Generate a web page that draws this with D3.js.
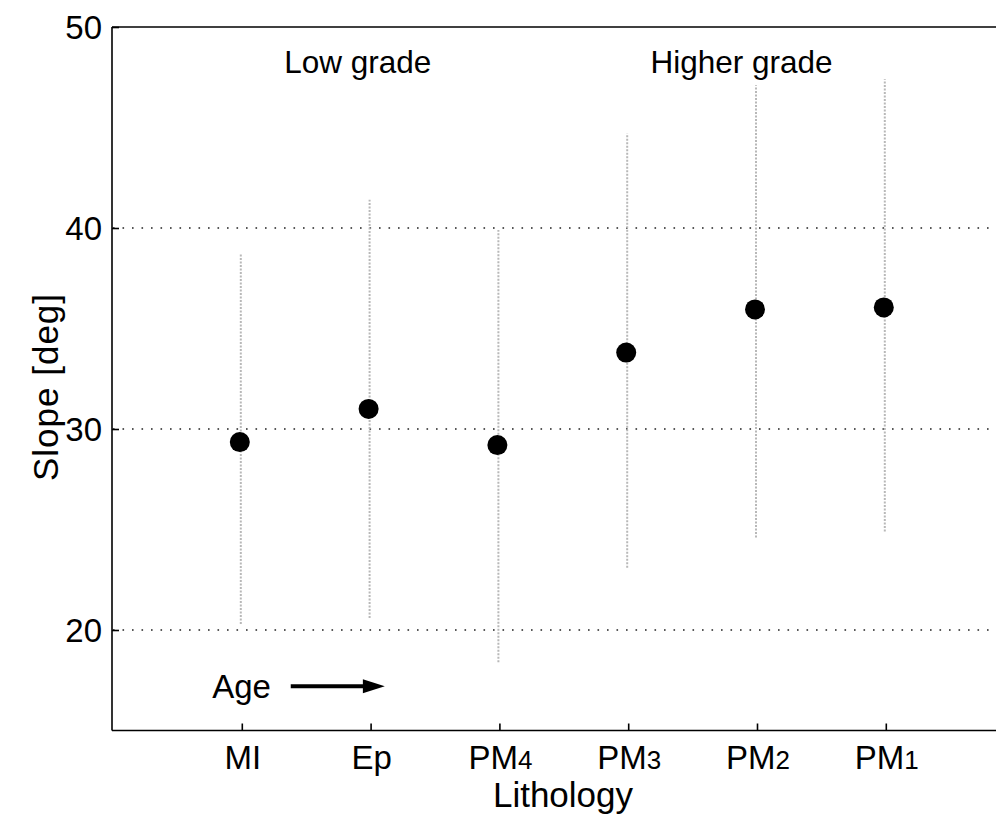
<!DOCTYPE html>
<html>
<head>
<meta charset="utf-8">
<script src="https://cdn.jsdelivr.net/npm/d3@7"></script>
<style>
  body { margin: 0; background: #fff; }
  svg text { font-family: "Liberation Sans", Arial, Helvetica, sans-serif; fill: #000; }
</style>
</head>
<body>
<svg id="plot" width="996" height="817"></svg>
<script>
// lithology categories (main text + subscript)
var lithNames = ["MI", "Ep", "PM", "PM", "PM", "PM"];
var lithSubs = ["", "", "4", "3", "2", "1"];
// mean slope per lithology
var slopeMean = [29.35, 31.0, 29.2, 33.8, 35.95, 36.05];
// spread of slopes (low / high end of the grey bars)
var slopeLow = [20.3, 20.6, 18.4, 23.1, 24.6, 24.9];
var slopeHigh = [38.75, 41.4, 39.9, 44.7, 47.1, 47.4];
var yTicks = [20, 30, 40, 50];
var gridValues = [20, 30, 40];

var svg = d3.select("#plot"),
    margin = {top: 27, left: 112, bottom: 730.5},
    g = svg.append("g");

var x = d3.scaleLinear()
    .domain([0, 7])
    .range([113, 113 + 7 * 128.8]);

var y = d3.scaleLinear()
    .domain([15, 50])
    .range([margin.bottom, margin.top]);

// dotted grid lines
g.selectAll(".grid")
    .data(gridValues)
    .enter().append("line")
    .attr("class", "grid")
    .attr("x1", x(0)).attr("x2", 996)
    .attr("y1", function(d) { return y(d); })
    .attr("y2", function(d) { return y(d); })
    .attr("stroke", "#222")
    .attr("stroke-width", 1.6)
    .attr("stroke-dasharray", "1.6,7.9");

// grey spread bars
g.selectAll(".spread")
    .data(slopeMean)
    .enter().append("line")
    .attr("class", "spread")
    .attr("x1", function(d, i) { return x(i + 1) - 1; })
    .attr("x2", function(d, i) { return x(i + 1) - 1; })
    .attr("y1", function(d, i) { return y(slopeLow[i]); })
    .attr("y2", function(d, i) { return y(slopeHigh[i]); })
    .attr("stroke", "#b8b8b8")
    .attr("stroke-width", 2)
    .attr("stroke-dasharray", "2,1.5");

// mean points
g.selectAll(".dot")
    .data(slopeMean)
    .enter().append("circle")
    .attr("class", "dot")
    .attr("cx", function(d, i) { return x(i + 1) - 2; })
    .attr("cy", function(d) { return y(d); })
    .attr("r", 10)
    .attr("fill", "#000");

// axes, ticks pointing inwards
var xAxis = d3.axisBottom(x)
    .tickValues([1, 2, 3, 4, 5, 6])
    .tickSize(-7)
    .tickFormat("");
var gx = g.append("g")
    .attr("transform", "translate(0," + y(15) + ")")
    .call(xAxis);
gx.select(".domain").attr("d", "M" + (x(0) - 1) + ",0H996");

var yAxis = d3.axisLeft(y)
    .tickValues(yTicks)
    .tickSize(-7)
    .tickFormat("");
var gy = g.append("g")
    .attr("transform", "translate(" + (x(0) - 1) + ",0)")
    .call(yAxis);
gy.select(".domain").attr("d", "M0," + y(15) + "V" + y(50));
g.selectAll(".domain, .tick line").attr("stroke", "#000").attr("stroke-width", 1.6);

// top border
g.append("line")
    .attr("x1", x(0) - 1).attr("x2", 996)
    .attr("y1", y(50)).attr("y2", y(50))
    .attr("stroke", "#000").attr("stroke-width", 1.6);

// y tick labels
g.selectAll(".ylab")
    .data(yTicks)
    .enter().append("text")
    .attr("class", "ylab")
    .attr("x", 102)
    .attr("y", function(d) { return y(d) + 12; })
    .attr("text-anchor", "end")
    .attr("font-size", 33)
    .text(function(d) { return d; });

// x tick labels with small digit
var xl = g.selectAll(".xlab")
    .data(lithNames)
    .enter().append("text")
    .attr("class", "xlab")
    .attr("x", function(d, i) { return x(i + 1) + 1; })
    .attr("y", 769)
    .attr("text-anchor", "middle")
    .attr("font-size", 33);
xl.append("tspan").text(function(d) { return d; });
xl.append("tspan")
    .attr("font-size", 26)
    .text(function(d, i) { return lithSubs[i]; });

// axis titles
g.append("text")
    .attr("x", 563)
    .attr("y", 807)
    .attr("text-anchor", "middle")
    .attr("font-size", 35)
    .text("Lithology");

g.append("text")
    .attr("transform", "translate(58,387) rotate(-90)")
    .attr("text-anchor", "middle")
    .attr("font-size", 35)
    .attr("letter-spacing", 1)
    .text("Slope [deg]");

// annotations
g.append("text")
    .attr("x", x(1.9))
    .attr("y", y(47.7))
    .attr("text-anchor", "middle")
    .attr("font-size", 31.5)
    .text("Low grade");

g.append("text")
    .attr("x", x(4.88))
    .attr("y", y(47.7))
    .attr("text-anchor", "middle")
    .attr("font-size", 31.5)
    .text("Higher grade");

g.append("text")
    .attr("x", x(0.77))
    .attr("y", y(16.6))
    .attr("font-size", 33)
    .text("Age");

var ay = y(17.2);
g.append("line")
    .attr("x1", x(1.38)).attr("x2", x(1.97))
    .attr("y1", ay).attr("y2", ay)
    .attr("stroke", "#000").attr("stroke-width", 4);
g.append("path")
    .attr("d", d3.line()([[x(1.94), ay - 7], [x(2.11), ay], [x(1.94), ay + 7]]) + "Z")
    .attr("fill", "#000");
</script>
</body>
</html>
